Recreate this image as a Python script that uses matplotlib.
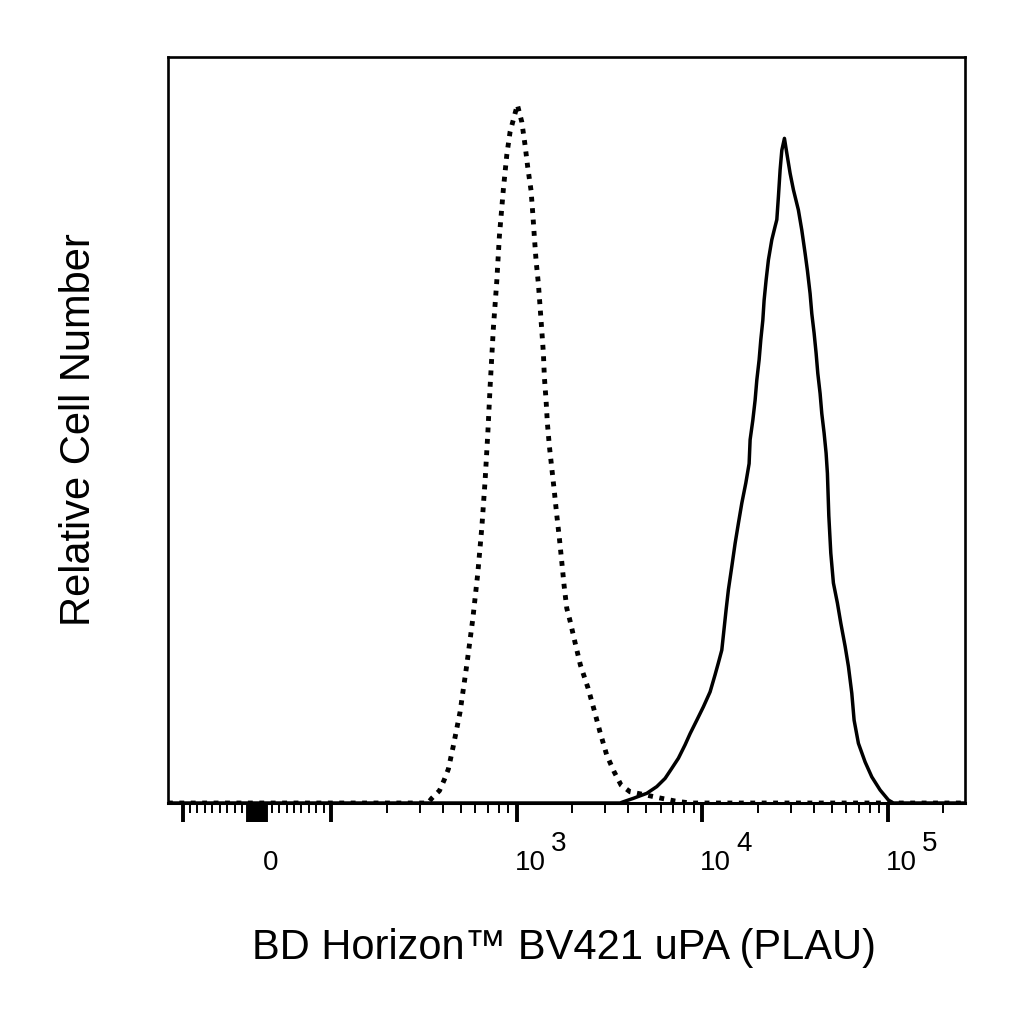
import matplotlib
matplotlib.use("Agg")
import matplotlib.pyplot as plt

plt.rcParams['font.family'] = ['Liberation Sans', 'DejaVu Sans']

# isotype control (dotted) - fluorescence vs relative count
ctrl_x = [-120, 333, 349, 384, 407, 429, 456, 496, 539, 581, 618, 650, 677, 700, 720,
          750, 782, 808, 849, 886, 923, 961, 1010, 1067, 1111, 1149, 1197, 1223, 1247,
          1274, 1311, 1339, 1367, 1395, 1412, 1442, 1466, 1503, 1548, 1599, 1647, 1701,
          1753, 1803, 1865, 1943, 2067, 2208, 2429, 2617, 2818, 3064, 3354, 3659, 4092,
          4930, 5937, 7151, 8617, 262000]
ctrl_y = [0, 0, 0.63, 1.65, 3.08, 4.56, 7.64, 12.2, 18.5, 24.7, 30.8, 37.0, 43.3, 49.6,
          55.8, 63.7, 69.9, 76.0, 82.3, 86.9, 90.0, 91.6, 93.6, 91.3, 88.2, 85.2, 82.1,
          79.0, 75.9, 72.7, 69.6, 66.5, 63.4, 60.3, 57.1, 54.0, 50.9, 47.8, 44.9, 41.7,
          38.6, 35.5, 32.3, 29.2, 26.1, 24.4, 21.5, 18.5, 15.4, 12.5, 9.5, 6.4, 4.2, 2.4,
          1.5, 1.1, 0.67, 0.27, 0, 0]

# uPA stained (solid)
upa_x = [-120, 3614, 3765, 4264, 5035, 5698, 6318, 6866, 7452, 8096, 8617, 9363, 10162,
         11044, 11750, 12243, 12770, 13026, 13471, 13862, 14459, 15064, 15694, 16372,
         17206, 17925, 18149, 18766, 19309, 19722, 20294, 20724, 21246, 21591, 22134,
         22775, 23756, 24751, 25281, 25787, 26339, 26897, 27785, 28622, 29820, 31067,
         33036, 34464, 35907, 36950, 38204, 39024, 40154, 41166, 42038, 43256, 44180,
         45460, 46604, 47362, 48200, 49400, 51022, 53626, 55940, 59017, 61488, 64119,
         65975, 69594, 75634, 82180, 91111, 100990, 107470, 262000]
upa_y = [0, 0, 0.17, 0.63, 1.3, 2.2, 3.3, 4.65, 6.0, 7.8, 9.3, 11.1, 12.9, 14.9, 17.2,
         18.8, 20.5, 22.5, 25.9, 28.6, 31.7, 34.8, 37.5, 40.2, 42.9, 45.5, 48.7, 51.3,
         54.0, 56.7, 59.4, 62.1, 64.7, 67.4, 70.1, 72.8, 75.5, 77.3, 78.2, 81.3, 84.9,
         87.5, 89.1, 87.1, 84.4, 82.2, 79.5, 76.8, 73.7, 71.4, 68.3, 65.6, 63.0, 60.3,
         57.6, 54.9, 52.2, 49.6, 46.9, 44.2, 38.5, 33.5, 29.5, 26.8, 24.1, 21.0, 18.3,
         14.7, 11.1, 8.0, 5.5, 3.5, 1.74, 0.4, 0, 0]

major_ticks = [-100, -12, -9, -6, -3, 0, 3, 6, 9, 12, 100, 1e3, 1e4, 1e5]
minor_ticks = ([-90, -80, -70, -60, -50, -40, -30, -20, 20, 30, 40, 50, 60, 70, 80, 90]
               + [k * 10 ** n for n in (2, 3, 4) for k in range(2, 10)] + [2e5])
decades = [1e3, 1e4, 1e5]
exponents = ['3', '4', '5']

fig = plt.figure(figsize=(10.24, 10.24), dpi=100)
ax = fig.add_axes([0.164, 0.2158, 0.7786, 0.7285])

ax.plot(upa_x, upa_y, color='black', lw=2.5, solid_joinstyle='round')
ax.plot(ctrl_x, ctrl_y, color='black', lw=3.5, linestyle=(0, (1, 1.35)))

ax.set_xscale('symlog', linthresh=100, linscale=0.36)
ax.set_xlim(-120, 262000)
ax.set_ylim(0, 100)

ax.set_xticks(major_ticks)
ax.set_xticklabels([''] * len(major_ticks))
ax.set_xticks(minor_ticks, minor=True)
ax.tick_params(axis='x', which='major', direction='out', length=13.7, width=2.8)
ax.tick_params(axis='x', which='minor', direction='out', length=7.2, width=1.4)
ax.set_yticks([])

# tick labels drawn as text so the exponent can be as big as in the original
lab = dict(xycoords=('data', 'axes fraction'), textcoords='offset points',
           ha='left', va='baseline', fontsize=20)
ax.annotate('0', xy=(0, 0), xytext=(4.3, -48.2), **lab)
for v, e in zip(decades, exponents):
    ax.annotate('10', xy=(v, 0), xytext=(-1.5, -48.2), **lab)
    ax.annotate(e, xy=(v, 0), xytext=(24.7, -34.6), **lab)

for s in ax.spines.values():
    s.set_linewidth(1.9)
ax.spines['bottom'].set_linewidth(2.2)

ax.set_xlabel('BD Horizon™ BV421 uPA (PLAU)', fontsize=30)
ax.set_ylabel('Relative Cell Number', fontsize=30)
ax.xaxis.set_label_coords(0.4968, -0.1674)
ax.yaxis.set_label_coords(-0.0866, 0.5)

fig.savefig('out.png', dpi=100)
